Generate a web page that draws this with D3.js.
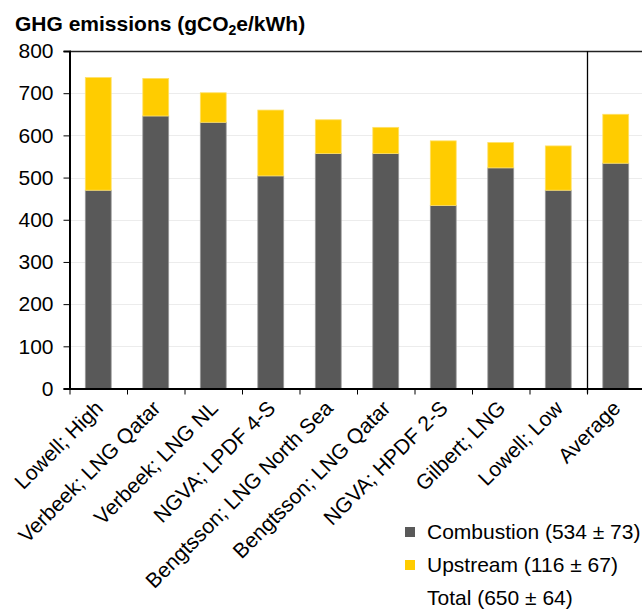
<!DOCTYPE html>
<html lang="en">
  <head>
    <meta charset="utf-8">
    <title>GHG emissions</title>
    <script src="https://d3js.org/d3.v7.js"></script>
    <style>
      body { margin: 0; background: #fff; }
      * { font-family: "Liberation Sans", Arial, sans-serif; }
    </style>
  </head>
  <body>
    <script type="text/javascript">
      // data
      var categories = ["Lowell; High", "Verbeek; LNG Qatar", "Verbeek; LNG NL",
        "NGVA; LPDF 4-S", "Bengtsson; LNG North Sea", "Bengtsson; LNG Qatar",
        "NGVA; HPDF 2-S", "Gilbert; LNG", "Lowell; Low", "Average"];
      var combustion = [470, 646, 631, 504, 557, 557, 434, 523, 470, 534];
      var upstream = [267, 89, 70, 156, 80, 62, 153, 60, 105, 116];
      var yTicks = [0, 100, 200, 300, 400, 500, 600, 700, 800];
      var legendLabels = ["Combustion (534 \u00b1 73)", "Upstream (116 \u00b1 67)", "Total (650 \u00b1 64)"];

      var w = 642, h = 610;
      var margin = {top: 51, left: 69.5, bottom: 222};
      var plotBottom = h - margin.bottom + 0.5;

      var svg = d3.select("body").append("svg")
        .attr("width", w).attr("height", h);

      var x = d3.scaleBand()
        .domain(categories)
        .range([margin.left, margin.left + 57.5 * categories.length]);

      var y = d3.scaleLinear()
        .domain([0, 800])
        .range([plotBottom, margin.top]);

      // gridlines
      svg.append("g").selectAll("line")
        .data(yTicks.filter(d => d > 0 && d < 800)).enter().append("line")
        .attr("x1", margin.left).attr("x2", w)
        .attr("y1", d => Math.round(y(d)) + 0.5)
        .attr("y2", d => Math.round(y(d)) + 0.5)
        .attr("stroke", "#ececec");

      // bars
      var barW = x.bandwidth() * 0.45;
      var colors = {comb: "#595959", up: "#ffcc00"};
      var bars = svg.append("g");
      bars.selectAll(".comb")
        .data(categories).enter().append("rect")
        .attr("class", "comb")
        .attr("x", d => x(d) + (x.bandwidth() - barW) / 2)
        .attr("width", barW)
        .attr("y", (d, i) => y(combustion[i]))
        .attr("height", (d, i) => y(0) - y(combustion[i]))
        .attr("fill", colors.comb)
        .attr("stroke", "#999").attr("stroke-width", 0.8);
      bars.selectAll(".up")
        .data(categories).enter().append("rect")
        .attr("class", "up")
        .attr("x", d => x(d) + (x.bandwidth() - barW) / 2)
        .attr("width", barW)
        .attr("y", (d, i) => y(combustion[i] + upstream[i]))
        .attr("height", (d, i) => y(combustion[i]) - y(combustion[i] + upstream[i]))
        .attr("fill", colors.up)
        .attr("stroke", "#ffe066").attr("stroke-width", 0.8);

      // top frame line
      svg.append("line")
        .attr("x1", margin.left).attr("x2", w)
        .attr("y1", margin.top + 0.5).attr("y2", margin.top + 0.5)
        .attr("stroke", "#222").attr("stroke-width", 1.5);

      // separator before Average
      var sepX = Math.round(x("Average")) + 0.5;
      svg.append("line")
        .attr("x1", sepX).attr("x2", sepX)
        .attr("y1", margin.top).attr("y2", plotBottom + 5)
        .attr("stroke", "#000").attr("stroke-width", 1.3);

      // y axis
      var yAxis = d3.axisLeft(y).tickValues(yTicks).tickSize(6).tickPadding(10);
      var gy = svg.append("g")
        .attr("transform", `translate(${margin.left},0)`)
        .call(yAxis);
      gy.select(".domain").attr("stroke-width", 2);
      gy.selectAll("text").attr("font-size", 21).attr("fill", "#000")
        .attr("font-family", "Liberation Sans, Arial, sans-serif");

      // x axis (ticks between categories)
      var xEdges = d3.scaleLinear().domain([0, categories.length])
        .range([margin.left, margin.left + 57.5 * categories.length]);
      var xAxis = d3.axisBottom(xEdges)
        .tickValues(d3.range(0, categories.length + 1))
        .tickFormat("").tickSize(6).tickSizeOuter(0);
      var gx = svg.append("g")
        .attr("transform", `translate(0,${plotBottom})`)
        .call(xAxis);
      gx.select(".domain").attr("stroke-width", 2);

      // category labels
      svg.append("g").selectAll("text")
        .data(categories).enter().append("text")
        .attr("transform", d => `translate(${x(d) + x.bandwidth() / 2 + 6},${plotBottom + 21}) rotate(-45)`)
        .attr("text-anchor", "end")
        .attr("font-size", 21)
        .text(d => d);

      // title
      var title = svg.append("text")
        .attr("x", 15).attr("y", 31)
        .attr("font-size", 21).attr("font-weight", "bold");
      title.append("tspan").text("GHG emissions (gCO");
      title.append("tspan").attr("font-size", 14).attr("dy", 4).text("2");
      title.append("tspan").attr("dy", -4).text("e/kWh)");

      // legend
      var legend = svg.append("g");
      var legendY = [539, 572, 605];
      var legendColors = [colors.comb, colors.up, null];
      legend.selectAll("rect")
        .data(legendLabels.slice(0, 2)).enter().append("rect")
        .attr("x", 405).attr("width", 10).attr("height", 10)
        .attr("y", (d, i) => legendY[i] - 12)
        .attr("fill", (d, i) => legendColors[i]);
      legend.selectAll("text")
        .data(legendLabels).enter().append("text")
        .attr("x", 427).attr("y", (d, i) => legendY[i])
        .attr("font-size", 21)
        .text(d => d);
    </script>
  </body>
</html>
